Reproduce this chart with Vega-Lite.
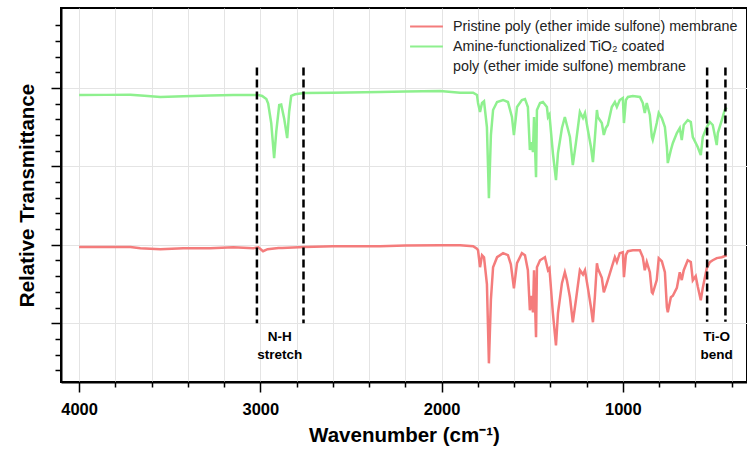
{
  "$schema": "https://vega.github.io/schema/vega-lite/v6.json",
  "width": 686,
  "height": 374,
  "autosize": "none",
  "padding": {"left": 61, "top": 8, "right": 0, "bottom": 68},
  "background": "white",
  "config": {
    "font": "Liberation Sans",
    "view": {"stroke": "black", "strokeWidth": 2},
    "axis": {
      "domainColor": "black", "domainWidth": 2,
      "tickColor": "black", "tickWidth": 1.5,
      "labelColor": "black", "labelFontWeight": "bold", "labelFontSize": 16.5,
      "titleColor": "black", "titleFontWeight": "bold", "titleFontSize": 20.5,
      "gridColor": "#e4e4e4", "gridWidth": 1,
      "labelOverlap": false
    }
  },
  "datasets": {
    "spectra": [
      {"wn": 4000, "t": 3.911, "s": "Amine"}, {"wn": 3850, "t": 3.912, "s": "Amine"}, {"wn": 3717, "t": 3.914, "s": "Amine"}, {"wn": 3640, "t": 3.9, "s": "Amine"}, {"wn": 3552, "t": 3.885, "s": "Amine"}, {"wn": 3425, "t": 3.895, "s": "Amine"}, {"wn": 3276, "t": 3.905, "s": "Amine"}, {"wn": 3150, "t": 3.91, "s": "Amine"}, {"wn": 3039, "t": 3.911, "s": "Amine"}, {"wn": 3011, "t": 3.911, "s": "Amine"}, {"wn": 2990, "t": 3.898, "s": "Amine"}, {"wn": 2967, "t": 3.86, "s": "Amine"}, {"wn": 2957, "t": 3.8, "s": "Amine"}, {"wn": 2940, "t": 3.55, "s": "Amine"}, {"wn": 2924, "t": 3.106, "s": "Amine"}, {"wn": 2912, "t": 3.45, "s": "Amine"}, {"wn": 2896, "t": 3.783, "s": "Amine"}, {"wn": 2885, "t": 3.79, "s": "Amine"}, {"wn": 2868, "t": 3.6, "s": "Amine"}, {"wn": 2852, "t": 3.361, "s": "Amine"}, {"wn": 2841, "t": 3.7, "s": "Amine"}, {"wn": 2830, "t": 3.898, "s": "Amine"}, {"wn": 2808, "t": 3.92, "s": "Amine"}, {"wn": 2758, "t": 3.936, "s": "Amine"}, {"wn": 2600, "t": 3.94, "s": "Amine"}, {"wn": 2339, "t": 3.949, "s": "Amine"}, {"wn": 2200, "t": 3.955, "s": "Amine"}, {"wn": 2008, "t": 3.962, "s": "Amine"}, {"wn": 1898, "t": 3.94, "s": "Amine"}, {"wn": 1826, "t": 3.94, "s": "Amine"}, {"wn": 1805, "t": 3.911, "s": "Amine"}, {"wn": 1799, "t": 3.809, "s": "Amine"}, {"wn": 1788, "t": 3.694, "s": "Amine"}, {"wn": 1777, "t": 3.809, "s": "Amine"}, {"wn": 1766, "t": 3.83, "s": "Amine"}, {"wn": 1750, "t": 3.5, "s": "Amine"}, {"wn": 1739, "t": 2.595, "s": "Amine"}, {"wn": 1728, "t": 3.4, "s": "Amine"}, {"wn": 1716, "t": 3.719, "s": "Amine"}, {"wn": 1694, "t": 3.821, "s": "Amine"}, {"wn": 1661, "t": 3.847, "s": "Amine"}, {"wn": 1634, "t": 3.821, "s": "Amine"}, {"wn": 1612, "t": 3.63, "s": "Amine"}, {"wn": 1601, "t": 3.4, "s": "Amine"}, {"wn": 1584, "t": 3.757, "s": "Amine"}, {"wn": 1557, "t": 3.847, "s": "Amine"}, {"wn": 1540, "t": 3.86, "s": "Amine"}, {"wn": 1524, "t": 3.757, "s": "Amine"}, {"wn": 1513, "t": 3.209, "s": "Amine"}, {"wn": 1504, "t": 3.31, "s": "Amine"}, {"wn": 1496, "t": 3.183, "s": "Amine"}, {"wn": 1490, "t": 3.63, "s": "Amine"}, {"wn": 1479, "t": 2.863, "s": "Amine"}, {"wn": 1474, "t": 3.719, "s": "Amine"}, {"wn": 1457, "t": 3.809, "s": "Amine"}, {"wn": 1441, "t": 3.821, "s": "Amine"}, {"wn": 1419, "t": 3.757, "s": "Amine"}, {"wn": 1413, "t": 3.63, "s": "Amine"}, {"wn": 1405, "t": 3.66, "s": "Amine"}, {"wn": 1386, "t": 3.17, "s": "Amine"}, {"wn": 1369, "t": 2.825, "s": "Amine"}, {"wn": 1358, "t": 3.17, "s": "Amine"}, {"wn": 1336, "t": 3.489, "s": "Amine"}, {"wn": 1320, "t": 3.63, "s": "Amine"}, {"wn": 1309, "t": 3.528, "s": "Amine"}, {"wn": 1292, "t": 3.374, "s": "Amine"}, {"wn": 1276, "t": 3.017, "s": "Amine"}, {"wn": 1259, "t": 3.298, "s": "Amine"}, {"wn": 1237, "t": 3.694, "s": "Amine"}, {"wn": 1220, "t": 3.617, "s": "Amine"}, {"wn": 1209, "t": 3.681, "s": "Amine"}, {"wn": 1193, "t": 3.464, "s": "Amine"}, {"wn": 1176, "t": 3.247, "s": "Amine"}, {"wn": 1165, "t": 3.055, "s": "Amine"}, {"wn": 1154, "t": 3.374, "s": "Amine"}, {"wn": 1143, "t": 3.719, "s": "Amine"}, {"wn": 1138, "t": 3.63, "s": "Amine"}, {"wn": 1116, "t": 3.553, "s": "Amine"}, {"wn": 1105, "t": 3.4, "s": "Amine"}, {"wn": 1094, "t": 3.489, "s": "Amine"}, {"wn": 1083, "t": 3.528, "s": "Amine"}, {"wn": 1061, "t": 3.757, "s": "Amine"}, {"wn": 1044, "t": 3.821, "s": "Amine"}, {"wn": 1033, "t": 3.757, "s": "Amine"}, {"wn": 1017, "t": 3.847, "s": "Amine"}, {"wn": 1000, "t": 3.872, "s": "Amine"}, {"wn": 994, "t": 3.553, "s": "Amine"}, {"wn": 983, "t": 3.847, "s": "Amine"}, {"wn": 972, "t": 3.885, "s": "Amine"}, {"wn": 945, "t": 3.898, "s": "Amine"}, {"wn": 906, "t": 3.885, "s": "Amine"}, {"wn": 890, "t": 3.809, "s": "Amine"}, {"wn": 879, "t": 3.681, "s": "Amine"}, {"wn": 868, "t": 3.809, "s": "Amine"}, {"wn": 851, "t": 3.655, "s": "Amine"}, {"wn": 840, "t": 3.374, "s": "Amine"}, {"wn": 835, "t": 3.336, "s": "Amine"}, {"wn": 813, "t": 3.553, "s": "Amine"}, {"wn": 802, "t": 3.681, "s": "Amine"}, {"wn": 785, "t": 3.617, "s": "Amine"}, {"wn": 768, "t": 3.502, "s": "Amine"}, {"wn": 757, "t": 3.247, "s": "Amine"}, {"wn": 752, "t": 3.042, "s": "Amine"}, {"wn": 735, "t": 3.209, "s": "Amine"}, {"wn": 724, "t": 3.298, "s": "Amine"}, {"wn": 702, "t": 3.425, "s": "Amine"}, {"wn": 686, "t": 3.489, "s": "Amine"}, {"wn": 675, "t": 3.336, "s": "Amine"}, {"wn": 664, "t": 3.528, "s": "Amine"}, {"wn": 642, "t": 3.591, "s": "Amine"}, {"wn": 625, "t": 3.566, "s": "Amine"}, {"wn": 614, "t": 3.374, "s": "Amine"}, {"wn": 587, "t": 3.247, "s": "Amine"}, {"wn": 570, "t": 3.145, "s": "Amine"}, {"wn": 559, "t": 3.374, "s": "Amine"}, {"wn": 537, "t": 3.502, "s": "Amine"}, {"wn": 520, "t": 3.566, "s": "Amine"}, {"wn": 504, "t": 3.528, "s": "Amine"}, {"wn": 482, "t": 3.272, "s": "Amine"}, {"wn": 476, "t": 3.425, "s": "Amine"}, {"wn": 454, "t": 3.591, "s": "Amine"}, {"wn": 438, "t": 3.719, "s": "Amine"}, {"wn": 427, "t": 3.75, "s": "Amine"},

      {"wn": 4000, "t": 1.973, "s": "Pristine"}, {"wn": 3717, "t": 1.973, "s": "Pristine"}, {"wn": 3662, "t": 1.957, "s": "Pristine"}, {"wn": 3552, "t": 1.944, "s": "Pristine"}, {"wn": 3425, "t": 1.957, "s": "Pristine"}, {"wn": 3276, "t": 1.957, "s": "Pristine"}, {"wn": 3149, "t": 1.969, "s": "Pristine"}, {"wn": 3039, "t": 1.957, "s": "Pristine"}, {"wn": 3011, "t": 1.969, "s": "Pristine"}, {"wn": 2985, "t": 1.918, "s": "Pristine"}, {"wn": 2960, "t": 1.944, "s": "Pristine"}, {"wn": 2900, "t": 1.96, "s": "Pristine"}, {"wn": 2880, "t": 1.96, "s": "Pristine"}, {"wn": 2758, "t": 1.973, "s": "Pristine"}, {"wn": 2600, "t": 1.98, "s": "Pristine"}, {"wn": 2339, "t": 1.982, "s": "Pristine"}, {"wn": 2200, "t": 1.99, "s": "Pristine"}, {"wn": 2008, "t": 1.995, "s": "Pristine"}, {"wn": 1898, "t": 1.995, "s": "Pristine"}, {"wn": 1826, "t": 1.982, "s": "Pristine"}, {"wn": 1805, "t": 1.95, "s": "Pristine"}, {"wn": 1799, "t": 1.931, "s": "Pristine"}, {"wn": 1788, "t": 1.714, "s": "Pristine"}, {"wn": 1777, "t": 1.867, "s": "Pristine"}, {"wn": 1766, "t": 1.84, "s": "Pristine"}, {"wn": 1750, "t": 1.5, "s": "Pristine"}, {"wn": 1739, "t": 0.488, "s": "Pristine"}, {"wn": 1728, "t": 1.3, "s": "Pristine"}, {"wn": 1716, "t": 1.714, "s": "Pristine"}, {"wn": 1694, "t": 1.842, "s": "Pristine"}, {"wn": 1661, "t": 1.893, "s": "Pristine"}, {"wn": 1634, "t": 1.867, "s": "Pristine"}, {"wn": 1618, "t": 1.75, "s": "Pristine"}, {"wn": 1601, "t": 1.446, "s": "Pristine"}, {"wn": 1584, "t": 1.765, "s": "Pristine"}, {"wn": 1557, "t": 1.893, "s": "Pristine"}, {"wn": 1540, "t": 1.867, "s": "Pristine"}, {"wn": 1524, "t": 1.676, "s": "Pristine"}, {"wn": 1513, "t": 1.165, "s": "Pristine"}, {"wn": 1504, "t": 1.35, "s": "Pristine"}, {"wn": 1496, "t": 1.139, "s": "Pristine"}, {"wn": 1490, "t": 1.676, "s": "Pristine"}, {"wn": 1479, "t": 0.82, "s": "Pristine"}, {"wn": 1474, "t": 1.714, "s": "Pristine"}, {"wn": 1457, "t": 1.803, "s": "Pristine"}, {"wn": 1430, "t": 1.842, "s": "Pristine"}, {"wn": 1413, "t": 1.676, "s": "Pristine"}, {"wn": 1405, "t": 1.7, "s": "Pristine"}, {"wn": 1386, "t": 1.127, "s": "Pristine"}, {"wn": 1369, "t": 0.718, "s": "Pristine"}, {"wn": 1358, "t": 1.127, "s": "Pristine"}, {"wn": 1336, "t": 1.51, "s": "Pristine"}, {"wn": 1320, "t": 1.65, "s": "Pristine"}, {"wn": 1309, "t": 1.55, "s": "Pristine"}, {"wn": 1292, "t": 1.331, "s": "Pristine"}, {"wn": 1276, "t": 1.012, "s": "Pristine"}, {"wn": 1259, "t": 1.293, "s": "Pristine"}, {"wn": 1237, "t": 1.676, "s": "Pristine"}, {"wn": 1220, "t": 1.62, "s": "Pristine"}, {"wn": 1209, "t": 1.676, "s": "Pristine"}, {"wn": 1193, "t": 1.45, "s": "Pristine"}, {"wn": 1176, "t": 1.203, "s": "Pristine"}, {"wn": 1165, "t": 1.012, "s": "Pristine"}, {"wn": 1154, "t": 1.35, "s": "Pristine"}, {"wn": 1143, "t": 1.765, "s": "Pristine"}, {"wn": 1138, "t": 1.7, "s": "Pristine"}, {"wn": 1116, "t": 1.58, "s": "Pristine"}, {"wn": 1105, "t": 1.395, "s": "Pristine"}, {"wn": 1094, "t": 1.47, "s": "Pristine"}, {"wn": 1083, "t": 1.55, "s": "Pristine"}, {"wn": 1061, "t": 1.714, "s": "Pristine"}, {"wn": 1044, "t": 1.842, "s": "Pristine"}, {"wn": 1033, "t": 1.78, "s": "Pristine"}, {"wn": 1017, "t": 1.893, "s": "Pristine"}, {"wn": 1000, "t": 1.906, "s": "Pristine"}, {"wn": 994, "t": 1.586, "s": "Pristine"}, {"wn": 983, "t": 1.87, "s": "Pristine"}, {"wn": 972, "t": 1.918, "s": "Pristine"}, {"wn": 945, "t": 1.931, "s": "Pristine"}, {"wn": 906, "t": 1.931, "s": "Pristine"}, {"wn": 890, "t": 1.842, "s": "Pristine"}, {"wn": 879, "t": 1.676, "s": "Pristine"}, {"wn": 868, "t": 1.78, "s": "Pristine"}, {"wn": 851, "t": 1.65, "s": "Pristine"}, {"wn": 840, "t": 1.395, "s": "Pristine"}, {"wn": 835, "t": 1.38, "s": "Pristine"}, {"wn": 813, "t": 1.55, "s": "Pristine"}, {"wn": 802, "t": 1.829, "s": "Pristine"}, {"wn": 785, "t": 1.79, "s": "Pristine"}, {"wn": 768, "t": 1.65, "s": "Pristine"}, {"wn": 757, "t": 1.203, "s": "Pristine"}, {"wn": 752, "t": 1.139, "s": "Pristine"}, {"wn": 735, "t": 1.331, "s": "Pristine"}, {"wn": 724, "t": 1.35, "s": "Pristine"}, {"wn": 702, "t": 1.45, "s": "Pristine"}, {"wn": 686, "t": 1.65, "s": "Pristine"}, {"wn": 675, "t": 1.55, "s": "Pristine"}, {"wn": 664, "t": 1.676, "s": "Pristine"}, {"wn": 642, "t": 1.803, "s": "Pristine"}, {"wn": 625, "t": 1.78, "s": "Pristine"}, {"wn": 614, "t": 1.548, "s": "Pristine"}, {"wn": 598, "t": 1.6, "s": "Pristine"}, {"wn": 587, "t": 1.47, "s": "Pristine"}, {"wn": 570, "t": 1.293, "s": "Pristine"}, {"wn": 559, "t": 1.45, "s": "Pristine"}, {"wn": 537, "t": 1.701, "s": "Pristine"}, {"wn": 520, "t": 1.778, "s": "Pristine"}, {"wn": 504, "t": 1.803, "s": "Pristine"}, {"wn": 482, "t": 1.83, "s": "Pristine"}, {"wn": 454, "t": 1.842, "s": "Pristine"}, {"wn": 427, "t": 1.867, "s": "Pristine"}
    ],
    "bands": [
      {"wn": 3019, "t": 4.26, "t2": 1.0},
      {"wn": 2762, "t": 4.26, "t2": 1.0},
      {"wn": 535, "t": 4.26, "t2": 1.02},
      {"wn": 434, "t": 4.26, "t2": 1.02}
    ],
    "notes": [
      {"wn": 2893, "t": 0.82, "label": "N-H\nstretch"},
      {"wn": 482, "t": 0.82, "label": "Ti-O\nbend"}
    ]
  },
  "layer": [
    {
      "data": {"name": "spectra"},
      "mark": {"type": "line", "strokeWidth": 2.5, "clip": true},
      "encoding": {
        "x": {
          "field": "wn", "type": "quantitative",
          "scale": {"domain": [315, 4100], "reverse": true, "nice": false, "zero": false},
          "axis": {
            "title": "Wavenumber (cm⁻¹)",
            "values": [4000, 3800, 3600, 3400, 3200, 3000, 2800, 2600, 2400, 2200, 2000, 1800, 1600, 1400, 1200, 1000, 800, 600, 400],
            "tickCount": 100,
            "format": "d",
            "labelExpr": "datum.value % 1000 == 0 ? datum.label : ''",
            "tickSize": {"condition": {"test": "datum.value % 1000 == 0", "value": 10}, "value": 5},
            "labelPadding": 9,
            "titlePadding": 8,
            "grid": true
          }
        },
        "y": {
          "field": "t", "type": "quantitative",
          "scale": {"domain": [0.25, 5.02], "nice": false, "zero": false},
          "axis": {
            "title": "Relative Transmittance",
            "values": [0.4, 0.6, 0.8, 1, 1.2, 1.4, 1.6, 1.8, 2, 2.2, 2.4, 2.6, 2.8, 3, 3.2, 3.4, 3.6, 3.8, 4, 4.2, 4.4, 4.6, 4.8],
            "tickCount": 100,
            "labels": false,
            "tickSize": {"condition": {"test": "abs(datum.value - round(datum.value)) < 0.001", "value": 10}, "value": 6},
            "gridOpacity": {"condition": {"test": "abs(datum.value - round(datum.value)) < 0.001", "value": 1}, "value": 0},
            "titlePadding": 13,
            "grid": true
          }
        },
        "color": {
          "field": "s", "type": "nominal",
          "scale": {"domain": ["Pristine", "Amine", "Amine2"], "range": ["#f47c7c", "#8ef08e", "rgba(0,0,0,0)"]},
          "legend": {
            "orient": "none",
            "legendX": 353.5,
            "legendY": 6.5,
            "title": null,
            "symbolType": "M-1.5,0H1.5",
            "symbolSize": 480,
            "symbolStrokeWidth": 2,
            "labelFontSize": 14.3,
            "labelColor": "#222222",
            "labelLimit": 0,
            "labelOffset": 14.5,
            "rowPadding": 0,
            "labelExpr": "datum.value == 'Amine' ? 'Amine-functionalized TiO₂ coated' : datum.value == 'Amine2' ? 'poly (ether imide sulfone) membrane' : 'Pristine poly (ether imide sulfone) membrane'"
          }
        }
      }
    },
    {
      "data": {"name": "bands"},
      "mark": {"type": "rule", "color": "black", "strokeWidth": 2.5, "strokeDash": [8, 4]},
      "encoding": {
        "x": {"field": "wn", "type": "quantitative"},
        "y": {"field": "t", "type": "quantitative"},
        "y2": {"field": "t2"}
      }
    },
    {
      "data": {"name": "notes"},
      "mark": {"type": "text", "fontWeight": "bold", "fontSize": 13.5, "lineBreak": "\n", "lineHeight": 18, "align": "center", "baseline": "middle", "color": "black"},
      "encoding": {
        "x": {"field": "wn", "type": "quantitative"},
        "y": {"field": "t", "type": "quantitative"},
        "text": {"field": "label"}
      }
    }
  ]
}
